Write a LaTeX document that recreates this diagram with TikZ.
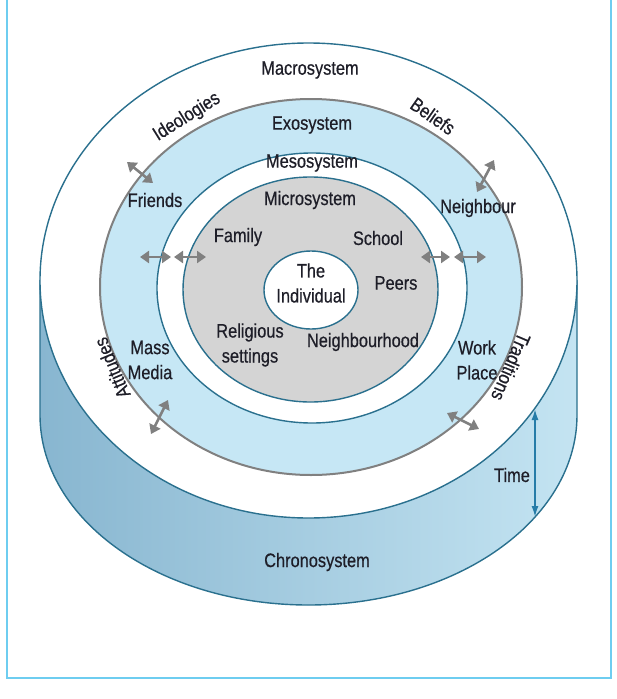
\documentclass[tikz,border=0pt]{standalone}
\usepackage{fontspec}
\setmainfont{Liberation Sans}[FakeBold=0.6]
\usetikzlibrary{arrows.meta}
\definecolor{ring}{RGB}{42,112,142}
\definecolor{exoblue}{RGB}{198,231,245}
\definecolor{microgray}{RGB}{212,212,212}
\definecolor{chronoL}{RGB}{136,182,208}
\definecolor{chronoR}{RGB}{196,228,242}
\definecolor{framebl}{RGB}{110,205,240}
\definecolor{timebl}{RGB}{38,124,168}
\definecolor{linkgray}{RGB}{128,128,128}
\definecolor{txt}{RGB}{30,30,40}

\begin{document}
\begin{tikzpicture}[x=1pt,y=1pt]
		\tikzstyle{every node}+=[inner sep=0pt]
		\tikzstyle{lbl}=[xscale=0.84, font=\fontsize{19.5}{25}\selectfont, text=txt, align=center]
		\tikzstyle{link}=[draw=linkgray, line width=2.6pt, {Triangle[width=12pt,length=9pt]}-{Triangle[width=12pt,length=9pt]}]
		\useasboundingbox (0,0) rectangle (617,-699);
		\draw [framebl, line width=2.5pt] (7,0) -- (7,-678) -- (611,-678) -- (611,0);
		\draw [ring, line width=1.4pt, left color=chronoL, right color=chronoR] (40,-280.5) -- (40,-415) arc [start angle=180, end angle=360, x radius=268.5, y radius=190] -- (577,-280.5) -- cycle;
		\draw [ring, line width=1.4pt, fill=white] (308.5,-280.5) ellipse [x radius=268.5, y radius=237.5];
		\draw [linkgray, line width=2pt, fill=exoblue] (311,-287) ellipse [x radius=211, y radius=188];
		\draw [ring, line width=1.4pt, fill=white] (312,-288) ellipse [x radius=155, y radius=135];
		\draw [ring, line width=1.4pt, fill=microgray] (310.5,-289.5) ellipse [x radius=127.5, y radius=112.5];
		\draw [ring, line width=1.4pt, fill=white] (311,-290) ellipse [x radius=47, y radius=39];
		\node [lbl] (macro) at (310,-70) {Macrosystem};
		\node [lbl] (exo) at (312,-125) {Exosystem};
		\node [lbl] (meso) at (312,-163) {Mesosystem};
		\node [lbl] (micro) at (310,-200) {Microsystem};
		\node [lbl] (chrono) at (317,-562) {Chronosystem};
		\node [rotate=32, lbl] (ideol) at (187,-117) {Ideologies};
		\node [rotate=-35, lbl] (belief) at (433,-116) {Beliefs};
		\node [rotate=113, lbl] (attit) at (112,-368) {Attitudes};
		\node [rotate=-113, lbl] (tradit) at (511,-367) {Traditions};
		\node [lbl] (friends) at (155,-200) {Friends};
		\node [lbl] (neighb) at (478,-208) {Neighbour};
		\node [lbl] (massmed) at (150,-360) {Mass\\Media};
		\node [lbl] (workpl) at (477,-360) {Work\\Place};
		\node [lbl] (family) at (238,-237) {Family};
		\node [lbl] (school) at (378,-238) {School};
		\node [lbl] (indiv) at (311,-283) {The\\Individual};
		\node [lbl] (peers) at (396,-283) {Peers};
		\node [lbl] (relig) at (250,-345) {Religious\\settings};
		\node [lbl] (nbhood) at (363,-342) {Neighbourhood};
		\node [lbl] (time) at (512,-475) {Time};
		\coordinate (fr1) at (127,-162);
		\coordinate (fr2) at (153,-183);
		\coordinate (nb1) at (494,-160);
		\coordinate (nb2) at (477,-192);
		\coordinate (fl1) at (140,-257);
		\coordinate (fl2) at (171,-257);
		\coordinate (fl3) at (174,-257);
		\coordinate (fl4) at (206,-257);
		\coordinate (sc1) at (421,-257);
		\coordinate (sc2) at (450,-257);
		\coordinate (sc3) at (454,-257);
		\coordinate (sc4) at (486,-257);
		\coordinate (mm1) at (168,-400);
		\coordinate (mm2) at (151,-434);
		\coordinate (wp1) at (447,-413);
		\coordinate (wp2) at (479,-429);
		\draw [link] (fr1) -- (fr2);
		\draw [link] (nb1) -- (nb2);
		\draw [link] (fl1) -- (fl2);
		\draw [link] (fl3) -- (fl4);
		\draw [link] (sc1) -- (sc2);
		\draw [link] (sc3) -- (sc4);
		\draw [link] (mm1) -- (mm2);
		\draw [link] (wp1) -- (wp2);
		\coordinate (ttop) at (535,-409);
		\coordinate (tbot) at (535,-517);
		\draw [timebl, line width=1.8pt, {Latex[length=11pt,width=7pt]}-{Latex[length=11pt,width=7pt]}] (ttop) -- (tbot);
	\end{tikzpicture}
\end{document}
